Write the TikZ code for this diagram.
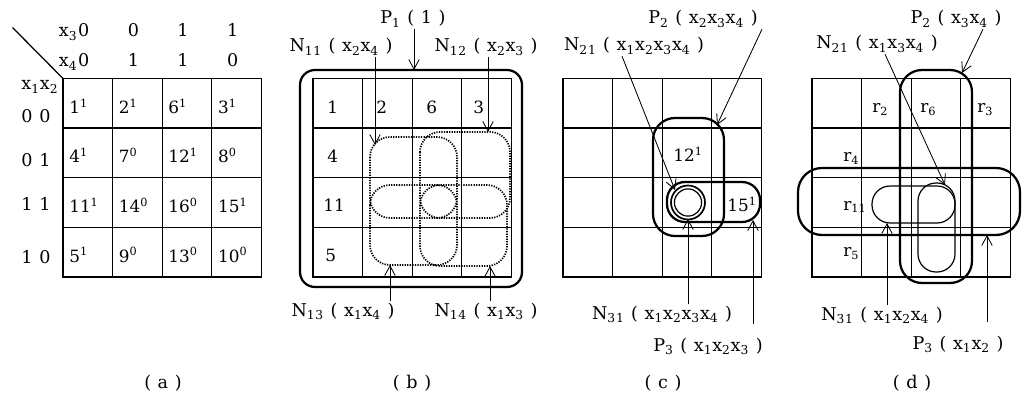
\documentclass[tikz,border=0pt]{standalone}
\usepackage{fontspec}
\setmainfont{DejaVu Serif}
\newfontfamily\lblfont[LetterSpace=6]{DejaVu Serif}
\usepackage{tikz}
\usetikzlibrary{arrows.meta,calc}
\newcommand\xv[1]{x\textsubscript{#1}}

\begin{document}
\begin{tikzpicture}[x=0.25mm,y=-0.25mm,
 lbl/.style={inner sep=1pt,anchor=base,font=\lblfont\fontsize{12.5}{14}\selectfont},
 num/.style={inner sep=0pt,anchor=base west,font=\fontsize{12}{14}\selectfont},
 gridline/.style={line width=0.9pt,line cap=rect},
 ring/.style={line width=1.6pt},
 dotring/.style={line width=1.2pt,dash pattern=on 0.9pt off 0.9pt,rounded corners=5mm},
 thinring/.style={line width=0.85pt},
 arrow/.style={-{Straight Barb[length=2.4mm,width=2.6mm]},line width=0.6pt}]
\useasboundingbox (0,0) rectangle (1024,397);
% the four maps
\foreach \mx in {63,313,563,812}
  \foreach \i in {0,...,4}{
    \draw[gridline] (\mx+\i*49.6,78.5) -- (\mx+\i*49.6,276.9);
    \draw[gridline] (\mx,78.5+\i*49.6) -- (\mx+198.4,78.5+\i*49.6);}

% (a) map with values
\draw[gridline] (13,28) -- (63,78.5);
\node[lbl,anchor=base east] (x3) at (79,37) {\xv3};
\node[lbl,anchor=base east] (x4) at (79,67) {\xv4};
\node[lbl,anchor=base east] (x12) at (60,90) {\xv1\xv2};
\foreach \v [count=\c] in {0,0,1,1}
  \node[lbl] (hb\c) at (63+\c*49.6-28.8,37) {\v};
\foreach \v [count=\c] in {0,1,1,0}
  \node[lbl] (hc\c) at (63+\c*49.6-28.8,67) {\v};
\foreach \v/\y [count=\r] in {0 0/123,0 1/167,1 1/210,1 0/263}
  \node[lbl] (rl\r) at (36,\y) {\v};
\foreach \n/\s [count=\k from 0] in {1/1,2/1,6/1,3/1,4/1,7/0,12/1,8/0,11/1,14/0,16/0,15/1,5/1,9/0,13/0,10/0}{
  \pgfmathtruncatemacro\cc{mod(\k,4)}
  \pgfmathtruncatemacro\rr{div(\k,4)}
  \node[num] (a\n) at (63+\cc*49.6+6,78.5+\rr*49.6+34.8) {\n\textsuperscript{\s}};}

% (b) P1 and its neighbours
\node[num] (b1) at (327,114) {1};
\node[num] (b2) at (376,114) {2};
\node[num] (b6) at (426,114) {6};
\node[num] (b3) at (473,114) {3};
\node[num] (b4) at (327,163) {4};
\node[num] (b11) at (323,212) {11};
\node[num] (b5) at (325,261) {5};
\draw[ring,rounded corners=3.75mm] (300,70) rectangle (522,287);
\draw[dotring] (370,137) rectangle (457,218);
\draw[dotring] (420,132) rectangle (510,218);
\draw[dotring] (370,185) rectangle (457,265);
\draw[dotring] (420,185) rectangle (507,266);
\node[lbl] (p1) at (413,24) {P\textsubscript{1} ( 1 )};
\node[lbl] (n11) at (341,52) {N\textsubscript{11} ( \xv2\xv4 )};
\node[lbl] (n12) at (486,52) {N\textsubscript{12} ( \xv2\xv3 )};
\node[lbl] (n13) at (343,316) {N\textsubscript{13} ( \xv1\xv4 )};
\node[lbl] (n14) at (486,316) {N\textsubscript{14} ( \xv1\xv3 )};
\coordinate (p1t) at (414,70);
\coordinate (n11t) at (375,145);
\coordinate (n12t) at (488,132);
\coordinate (n13t) at (390,265);
\coordinate (n14t) at (490,266);
\draw[arrow] (p1.south -| p1t) -- (p1t);
\draw[arrow] (n11.south -| n11t) -- (n11t);
\draw[arrow] (n12.south -| n12t) -- (n12t);
\draw[arrow] (n13.north -| n13t) -- (n13t);
\draw[arrow] (n14.north -| n14t) -- (n14t);

% (c) P2, P3 and the double circle
\node[num] (c12) at (673,162) {12\textsuperscript{1}};
\node[num] (c15) at (727,212) {15\textsuperscript{1}};
\draw[ring,rounded corners=5.5mm] (653,118) rectangle (724,236);
\draw[ring,rounded corners=4.5mm] (667,182) rectangle (760,222);
\draw[line width=1.2pt] (688,202.5) circle[radius=4.25mm];
\draw[thinring] (688,202.5) circle[radius=3.4mm];
\node[lbl] (p2c) at (703,24) {P\textsubscript{2} ( \xv2\xv3\xv4 )};
\node[lbl] (n21c) at (634,51) {N\textsubscript{21} ( \xv1\xv2\xv3\xv4 )};
\node[lbl] (n31c) at (662,319) {N\textsubscript{31} ( \xv1\xv2\xv3\xv4 )};
\node[lbl] (p3c) at (708,351) {P\textsubscript{3} ( \xv1\xv2\xv3 )};
\coordinate (p2ct) at (717,125);
\coordinate (n21ct) at (675,190);
\coordinate (n31ct) at (688,219);
\coordinate (p3ct) at (753,220);
\draw[arrow] ([xshift=14.75mm]p2c.south) -- (p2ct);
\draw[arrow] ([xshift=-3mm]n21c.south) -- (n21ct);
\draw[arrow] (n31c.north -| n31ct) -- (n31ct);
\draw[arrow] ($(p3c.north -| p3ct)+(0,-12)$) -- (p3ct);

% (d) remaining cells
\node[num] (r2) at (872,113) {r\textsubscript{2}};
\node[num] (r6) at (920,113) {r\textsubscript{6}};
\node[num] (r3) at (977,113) {r\textsubscript{3}};
\node[num] (r4) at (843,162) {r\textsubscript{4}};
\node[num] (r11) at (843,210) {r\textsubscript{11}};
\node[num] (r5) at (843,257) {r\textsubscript{5}};
\draw[ring,rounded corners=5.5mm] (900,70) rectangle (972,283);
\draw[ring,rounded corners=6mm] (798,168) rectangle (1020,235);
\draw[thinring,rounded corners=4.5mm] (872,186) rectangle (955,223);
\draw[thinring,rounded corners=4.5mm] (918,183) rectangle (955,272);
\node[lbl] (p2d) at (956,24) {P\textsubscript{2} ( \xv3\xv4 )};
\node[lbl] (n21d) at (877,49) {N\textsubscript{21} ( \xv1\xv3\xv4 )};
\node[lbl] (n31d) at (882,320) {N\textsubscript{31} ( \xv1\xv2\xv4 )};
\node[lbl] (p3d) at (958,349) {P\textsubscript{3} ( \xv1\xv2 )};
\coordinate (p2dt) at (962,73);
\coordinate (n21dt) at (945,185);
\coordinate (n31dt) at (887,223);
\coordinate (p3dt) at (987,235);
\draw[arrow] ([xshift=6.75mm]p2d.south) -- (p2dt);
\draw[arrow] ([xshift=2mm]n21d.south) -- (n21dt);
\draw[arrow] (n31d.north -| n31dt) -- (n31dt);
\draw[arrow] ($(p3d.north -| p3dt)+(0,-12)$) -- (p3dt);

% captions
\node[lbl] (capa) at (163,388) {( a )};
\node[lbl] (capb) at (412,388) {( b )};
\node[lbl] (capc) at (663,388) {( c )};
\node[lbl] (capd) at (912,388) {( d )};
\end{tikzpicture}
\end{document}
